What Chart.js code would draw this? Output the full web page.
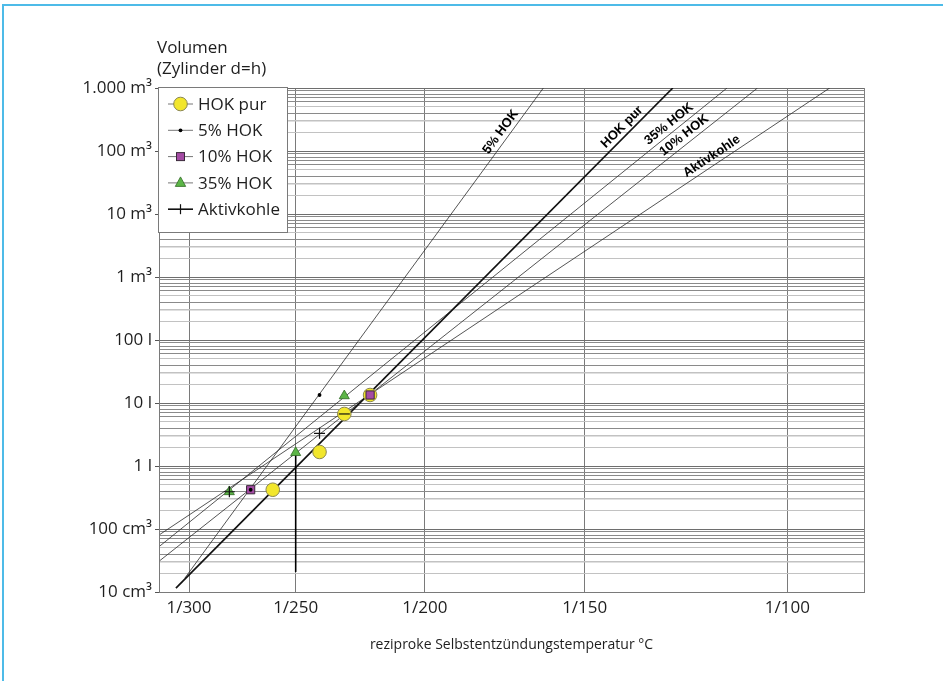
<!DOCTYPE html>
<html><head><meta charset="utf-8">
<script src="https://cdn.jsdelivr.net/npm/chart.js@4.4.0/dist/chart.umd.min.js"></script>
<style>
html,body{margin:0;padding:0;background:#fff;}
#wrap{position:relative;width:943px;height:681px;overflow:hidden;}
#frame{position:absolute;left:2px;top:4px;width:960px;height:700px;border-top:2px solid #4dbbe8;border-left:2px solid #4dbbe8;}
canvas{position:absolute;left:0;top:0;}
</style></head><body>
<div id="wrap"><div id="frame"></div><canvas id="c" width="943" height="681"></canvas></div>
<script>
// ---------- data ----------
const xTickTemps  = [300, 250, 200, 150, 100];
const xTickLabels = ['1/300', '1/250', '1/200', '1/150', '1/100'];
const yTickValues = [0.01, 0.1, 1, 10, 100, 1000, 10000, 100000, 1000000]; // litres
const yTickLabels = ['10 cm³', '100 cm³', '1 l', '10 l', '100 l', '1 m³', '10 m³', '100 m³', '1.000 m³'];

const seriesNames = ['HOK pur', '5% HOK', '10% HOK', '35% HOK', 'Aktivkohle'];

// measured points: temperature °C, volume in litres
const hokPurTemp = [260, 240, 230, 220];
const hokPurVol  = [0.42, 1.67, 6.7, 13.4];
const hok5Temp   = [270, 240];
const hok5Vol    = [0.42, 13.4];
const hok10Temp  = [270, 220];
const hok10Vol   = [0.42, 13.4];
const hok35Temp  = [280, 250, 230];
const hok35Vol   = [0.39, 1.63, 13.0];
const aktivTemp  = [280, 240, 230];
const aktivVol   = [0.39, 3.3, 6.7];

// extrapolation lines: end points (°C, litres)
const lineHokPurTemp = [306.8, 126.7];
const lineHokPurVol  = [0.0115, 1000000];
const line5Temp      = [302.1, 161.9];
const line5Vol       = [0.0167, 1000000];
const line10Temp     = [315.3, 106.6];
const line10Vol      = [0.0316, 1000000];
const line35Temp     = [315.3, 113.6];
const line35Vol      = [0.0539, 1000000];
const lineAktivTemp  = [315.3, 91.0];
const lineAktivVol   = [0.0821, 1000000];
const aktivBarTemp   = [250, 250];
const aktivBarVol    = [0.0208, 1.5];

// ---------- helpers ----------
const toU = t => 1000 / (t + 273.15);          // reciprocal absolute temperature
const pts = (ts, vs) => ts.map((t, i) => ({x: toU(t), y: vs[i]}));
const FONT = "'Open Sans', 'Noto Sans', sans-serif";
Chart.defaults.font.family = FONT;
Chart.defaults.font.size = 17;
Chart.defaults.color = '#1e1e1e';

const C_YEL = '#f2e62c', C_YEL_B = '#8a8650';
const C_PUR = '#a44ba4', C_PUR_B = '#3a2a3a';
const C_GRN = '#5cb547', C_GRN_B = '#2e6a22';
const C_LINE = '#2a2a2a';

// label placement along each line (fraction, style only)
const lineLabelStyle = {
  'HOK pur': 0.91, '5% HOK': 0.90, '35% HOK': 0.907, '10% HOK': 0.886, 'Aktivkohle': 0.831
};

const lineDs = (name, ts, vs, w, col) => ({
  label: name, isLine: true, data: pts(ts, vs), showLine: true,
  borderColor: col, borderWidth: w, pointRadius: 0, order: 10, clip: 0
});

const datasets = [
  {label: 'Aktivkohle', data: pts(aktivTemp, aktivVol), pointStyle: ['cross', 'cross', 'line'],
   pointRadius: 5.5, pointBorderColor: '#111', pointBorderWidth: 1.2, showLine: false, order: 1},
  {label: '5% HOK', data: pts(hok5Temp, hok5Vol), pointStyle: 'circle', pointRadius: 1.9,
   pointBackgroundColor: '#000', pointBorderColor: '#000', pointBorderWidth: 0, showLine: false, order: 2},
  {label: '10% HOK', data: pts(hok10Temp, hok10Vol), pointStyle: 'rect', pointRadius: 5.8,
   pointBackgroundColor: C_PUR, pointBorderColor: C_PUR_B, pointBorderWidth: 1, showLine: false, order: 3},
  {label: '35% HOK', data: pts(hok35Temp, hok35Vol), pointStyle: 'triangle', pointRadius: 5.8,
   pointBackgroundColor: C_GRN, pointBorderColor: C_GRN_B, pointBorderWidth: 0.8, showLine: false, order: 3},
  {label: 'HOK pur', data: pts(hokPurTemp, hokPurVol), pointStyle: 'circle', pointRadius: 6.8,
   pointBackgroundColor: C_YEL, pointBorderColor: C_YEL_B, pointBorderWidth: 1, showLine: false, order: 4},
  {label: 'bar', data: pts(aktivBarTemp, aktivBarVol), showLine: true, borderColor: '#000', borderWidth: 1.6,
   pointRadius: 0, order: 5},
  lineDs('HOK pur', lineHokPurTemp, lineHokPurVol, 1.7, '#111'),
  lineDs('5% HOK', line5Temp, line5Vol, 0.8, C_LINE),
  lineDs('10% HOK', line10Temp, line10Vol, 0.8, C_LINE),
  lineDs('35% HOK', line35Temp, line35Vol, 0.8, C_LINE),
  lineDs('Aktivkohle', lineAktivTemp, lineAktivVol, 0.8, C_LINE)
];

function mantissa(v) {
  const e = Math.floor(Math.log10(v) + 1e-9);
  return Math.round(v / Math.pow(10, e));
}

function drawMarker(ctx, name, x, y) {
  ctx.save();
  if (name === 'HOK pur') {
    ctx.beginPath(); ctx.arc(x, y, 6.8, 0, Math.PI * 2);
    ctx.fillStyle = C_YEL; ctx.fill(); ctx.strokeStyle = C_YEL_B; ctx.lineWidth = 1; ctx.stroke();
  } else if (name === '5% HOK') {
    ctx.beginPath(); ctx.arc(x, y, 1.9, 0, Math.PI * 2); ctx.fillStyle = '#000'; ctx.fill();
  } else if (name === '10% HOK') {
    ctx.fillStyle = C_PUR; ctx.fillRect(x - 4, y - 4, 8, 8);
    ctx.strokeStyle = C_PUR_B; ctx.lineWidth = 1; ctx.strokeRect(x - 4, y - 4, 8, 8);
  } else if (name === '35% HOK') {
    ctx.beginPath(); ctx.moveTo(x, y - 6); ctx.lineTo(x + 5.2, y + 3.5); ctx.lineTo(x - 5.2, y + 3.5); ctx.closePath();
    ctx.fillStyle = C_GRN; ctx.fill(); ctx.strokeStyle = C_GRN_B; ctx.lineWidth = 0.8; ctx.stroke();
  } else {
    ctx.beginPath(); ctx.moveTo(x, y - 5); ctx.lineTo(x, y + 5);
    ctx.strokeStyle = '#111'; ctx.lineWidth = 1.2; ctx.stroke();
  }
  ctx.restore();
}

const extras = {
  id: 'extras',
  beforeDatasetsDraw(chart) {
    const {ctx, chartArea: a} = chart;
    ctx.save();
    ctx.strokeStyle = '#808080'; ctx.lineWidth = 1;
    ctx.beginPath(); ctx.moveTo(a.right + 0.5, a.top); ctx.lineTo(a.right + 0.5, a.bottom); ctx.stroke();
    ctx.restore();
  },
  afterDatasetsDraw(chart) {
    const {ctx, chartArea: a} = chart;
    // rotated line labels
    chart.data.datasets.forEach((ds, i) => {
      if (!ds.isLine) return;
      const m = chart.getDatasetMeta(i);
      const p0 = m.data[0], p1 = m.data[1];
      const f = lineLabelStyle[ds.label];
      const x = p0.x + (p1.x - p0.x) * f, y = p0.y + (p1.y - p0.y) * f;
      const ang = Math.atan2(p1.y - p0.y, p1.x - p0.x);
      ctx.save();
      ctx.translate(x, y); ctx.rotate(ang);
      ctx.font = "bold 13px 'Liberation Sans', Arial, sans-serif";
      ctx.fillStyle = '#000'; ctx.textAlign = 'center'; ctx.textBaseline = 'bottom';
      ctx.fillText(ds.label, 0, -2);
      ctx.restore();
    });
    // legend box
    const lx = a.left - 1, ly = a.top - 1, lw = 129, lh = 145;
    ctx.save();
    ctx.fillStyle = '#fff'; ctx.fillRect(lx, ly, lw, lh);
    ctx.strokeStyle = '#7a7a7a'; ctx.lineWidth = 1; ctx.strokeRect(lx + 0.5, ly + 0.5, lw, lh);
    seriesNames.forEach((name, i) => {
      const yy = ly + 17 + i * 26.3;
      ctx.beginPath(); ctx.moveTo(lx + 10, yy); ctx.lineTo(lx + 35, yy);
      ctx.strokeStyle = name === 'Aktivkohle' ? '#111' : '#777';
      ctx.lineWidth = name === 'Aktivkohle' ? 1.6 : 1; ctx.stroke();
      drawMarker(ctx, name, lx + 22.5, yy);
      ctx.font = '17px ' + FONT; ctx.fillStyle = '#1e1e1e';
      ctx.textAlign = 'left'; ctx.textBaseline = 'middle';
      ctx.fillText(name, lx + 40, yy + 1);
    });
    ctx.restore();
  },
  afterDraw(chart) {
    const {ctx, chartArea: a} = chart;
    ctx.save();
    ctx.font = '17px ' + FONT; ctx.fillStyle = '#1e1e1e';
    ctx.textAlign = 'left'; ctx.textBaseline = 'middle';
    ctx.fillText('Volumen', a.left - 2, 48);
    ctx.fillText('(Zylinder d=h)', a.left - 2, 69);
    ctx.font = '14px ' + FONT;
    ctx.textAlign = 'center';
    ctx.fillText('reziproke Selbstentzündungstemperatur °C', (a.left + a.right) / 2, 645);
    ctx.restore();
  }
};

new Chart(document.getElementById('c'), {
  type: 'scatter',
  data: {datasets},
  options: {
    responsive: false, animation: false, events: [],
    layout: {padding: {left: 0, right: 79, top: 88, bottom: 0}},
    plugins: {legend: {display: false}, tooltip: {enabled: false}},
    scales: {
      x: {
        type: 'linear', min: 1.69785, max: 2.79977,
        afterBuildTicks: s => { s.ticks = xTickTemps.map(t => ({value: toU(t)})); },
        afterFit: s => { s.height = 89; },
        ticks: {autoSkip: false, padding: 6, maxRotation: 0,
          callback: (v, i) => xTickLabels[i]},
        grid: {color: '#7a7a7a', lineWidth: 1, drawTicks: false},
        border: {color: '#7a7a7a'}
      },
      y: {
        type: 'logarithmic', min: 0.01, max: 1000000,
        afterBuildTicks: s => {
          const t = [];
          for (let e = -2; e < 6; e++) for (let m = 1; m <= 9; m++) t.push({value: m * Math.pow(10, e)});
          t.push({value: 1000000});
          s.ticks = t;
        },
        afterFit: s => { s.width = 159; },
        ticks: {autoSkip: false, padding: 3,
          callback: v => {
            const k = yTickValues.findIndex(q => Math.abs(q - v) / q < 1e-6);
            return k >= 0 ? yTickLabels[k] : '';
          }},
        grid: {
          tickLength: 4,
          color: c => { const m = mantissa(c.tick.value); return m === 1 ? '#6e6e6e' : (m === 2 || m === 3 || m === 5 ? '#c2c2c2' : '#8a8a8a'); },
          lineWidth: c => mantissa(c.tick.value) === 3 ? 1.6 : 1,
          tickColor: c => mantissa(c.tick.value) === 1 ? '#555' : 'rgba(0,0,0,0)'
        },
        border: {color: '#7a7a7a'}
      }
    }
  },
  plugins: [extras]
});
</script>
</body></html>
